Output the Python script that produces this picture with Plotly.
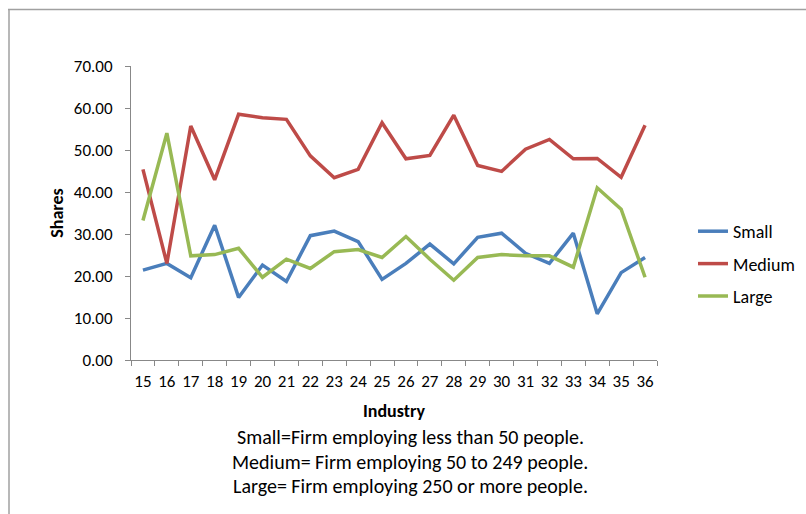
import plotly.graph_objects as go

# Industry codes (x categories)
industries = [str(i) for i in range(15, 37)]

# Employment shares by firm size
small = [21.4, 23.0, 19.6, 32.1, 14.9, 22.6, 18.7, 29.6, 30.7, 28.2, 19.2,
         23.0, 27.6, 22.9, 29.2, 30.2, 25.4, 23.0, 30.2, 11.0, 20.8, 24.4]
medium = [45.4, 23.0, 55.7, 42.9, 58.5, 57.7, 57.3, 48.6, 43.4, 45.4, 56.5,
          47.9, 48.7, 58.3, 46.3, 44.9, 50.2, 52.5, 47.9, 48.0, 43.5, 55.9]
large = [33.2, 54.0, 24.8, 25.1, 26.6, 19.7, 24.0, 21.8, 25.8, 26.3, 24.4,
         29.4, 24.0, 19.0, 24.4, 25.1, 24.8, 24.8, 22.1, 41.0, 35.9, 19.7]

y_ticks = [0, 10, 20, 30, 40, 50, 60, 70]

notes = [
    "Small=Firm employing less than 50 people.",
    "Medium= Firm employing 50 to 249 people.",
    "Large= Firm employing 250 or more people.",
]

FONT = "Carlito, Lato, sans-serif"
W, H = 806, 514
ML, MR, MT, MB = 131, 149, 66, 154
PW, PH = W - ML - MR, H - MT - MB

series = [("Small", small, "#4A7EBB"), ("Medium", medium, "#BE4B48"), ("Large", large, "#98B954")]

fig = go.Figure()
for name, vals, col in series:
    fig.add_trace(go.Scatter(
        x=industries, y=vals, name=name, mode="lines",
        line=dict(color=col, width=3.5), legendgroup=name,
    ))

def px_x(p):
    return (p - ML) / PW

def px_y(p):
    return (H - MB - p) / PH

# Outer chart frame (top and left edges visible)
fig.add_shape(type="line", xref="paper", yref="paper",
              x0=px_x(8), x1=px_x(806), y0=px_y(9.5), y1=px_y(9.5),
              line=dict(color="#A0A0A0", width=1.5))
fig.add_shape(type="line", xref="paper", yref="paper",
              x0=px_x(9), x1=px_x(9), y0=px_y(9.5), y1=px_y(520),
              line=dict(color="#A0A0A0", width=1.5))

for i, t in enumerate(notes):
    fig.add_annotation(text=t, xref="paper", yref="paper",
                       x=px_x(410), y=px_y(437 + i * 24.5),
                       showarrow=False, xanchor="center", yanchor="middle",
                       font=dict(family=FONT, size=20, color="#000"))

fig.update_layout(
    width=W, height=H,
    margin=dict(l=ML, r=MR, t=MT, b=MB, autoexpand=False),
    paper_bgcolor="white", plot_bgcolor="white",
    font=dict(family=FONT, size=17, color="#000"),
    showlegend=True,
    legend=dict(x=px_x(693), y=px_y(213), xanchor="left", yanchor="top",
                font=dict(family=FONT, size=18), tracegroupgap=6,
                traceorder="grouped", itemwidth=30, bgcolor="rgba(0,0,0,0)"),
    xaxis=dict(
        type="category", range=[-0.5, len(industries) - 0.5],
        showgrid=False, showline=True, linecolor="#888888",
        linewidth=1, ticks="outside", tickson="boundaries", ticklen=5,
        tickcolor="#888888", tickfont=dict(family=FONT, size=17), tickangle=0,
        ticklabelstandoff=6,
        title=dict(text="<b>Industry</b>", font=dict(family=FONT, size=18), standoff=12),
        zeroline=False,
    ),
    yaxis=dict(
        range=[0, 70], tickvals=y_ticks, ticktext=[f"{v:.2f}" for v in y_ticks],
        showgrid=False, showline=True, linecolor="#888888", linewidth=1,
        ticks="outside", ticklen=5, tickcolor="#888888",
        tickfont=dict(family=FONT, size=17), zeroline=False, ticklabelstandoff=9,
        title=dict(text="<b>Shares</b>", font=dict(family=FONT, size=18), standoff=5),
    ),
)

fig.write_html("out.html")
